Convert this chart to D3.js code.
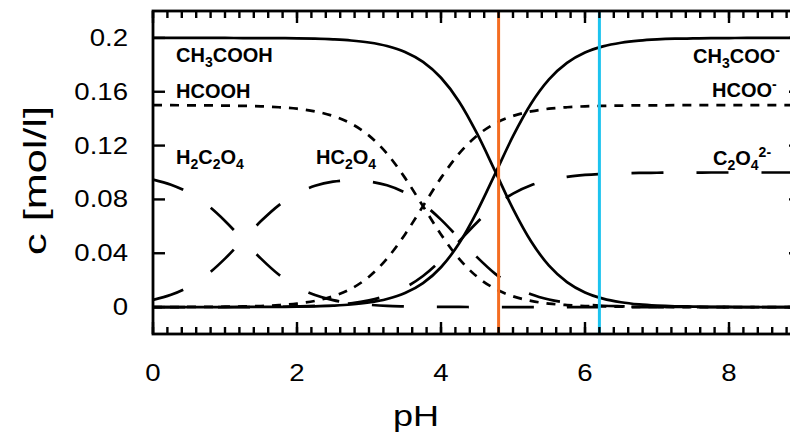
<!DOCTYPE html>
<html>
<head>
<meta charset="utf-8">
<script src="https://cdn.jsdelivr.net/npm/d3@7"></script>
<style>
  body { margin: 0; background: #fff; }
  svg { display: block; }
  text { font-family: "Liberation Sans", Arial, Helvetica, sans-serif; fill: #000; }
</style>
</head>
<body>
<svg id="chart" width="790" height="441"></svg>
<script>
// pH grid of the speciation curves
const pH = [0, 0.25, 0.5, 0.75, 1, 1.25, 1.5, 1.75, 2, 2.25, 2.5, 2.75, 3, 3.25, 3.5, 3.75,
  4, 4.25, 4.5, 4.75, 5, 5.25, 5.5, 5.75, 6, 6.25, 6.5, 6.75, 7, 7.25, 7.5, 7.75, 8, 8.25, 8.5, 8.75, 9];

// acetic acid system, total 0.2 mol/l
const ch3cooh = [0.2000, 0.2000, 0.2000, 0.2000, 0.2000, 0.1999, 0.1999, 0.1998, 0.1997, 0.1994, 0.1989, 0.1981,
  0.1966, 0.1940, 0.1896, 0.1822, 0.1704, 0.1528, 0.1290, 0.1012, 0.0730, 0.0489, 0.0308, 0.0186, 0.0109,
  0.0063, 0.0036, 0.0020, 0.0011, 0.0006, 0.0004, 0.0002, 0.0001, 0.0000, 0.0000, 0.0000, 0.0000];
const ch3coo = [0.0000, 0.0000, 0.0000, 0.0000, 0.0000, 0.0001, 0.0001, 0.0002, 0.0003, 0.0006, 0.0011, 0.0019,
  0.0034, 0.0060, 0.0104, 0.0178, 0.0296, 0.0472, 0.0710, 0.0988, 0.1270, 0.1511, 0.1692, 0.1814, 0.1891,
  0.1937, 0.1964, 0.1980, 0.1989, 0.1994, 0.1996, 0.1998, 0.1999, 0.2000, 0.2000, 0.2000, 0.2000];

// formic acid system, total 0.15 mol/l
const hcooh = [0.1500, 0.1500, 0.1499, 0.1499, 0.1497, 0.1495, 0.1492, 0.1485, 0.1474, 0.1454, 0.1420, 0.1364,
  0.1274, 0.1140, 0.0960, 0.0750, 0.0540, 0.0360, 0.0226, 0.0136, 0.0080, 0.0046, 0.0026, 0.0015, 0.0008,
  0.0005, 0.0003, 0.0001, 0.0001, 0.0000, 0.0000, 0.0000, 0.0000, 0.0000, 0.0000, 0.0000, 0.0000];
const hcoo = [0.0000, 0.0000, 0.0001, 0.0001, 0.0003, 0.0005, 0.0008, 0.0015, 0.0026, 0.0046, 0.0080, 0.0136,
  0.0226, 0.0360, 0.0540, 0.0750, 0.0960, 0.1140, 0.1274, 0.1364, 0.1420, 0.1454, 0.1474, 0.1485, 0.1492,
  0.1495, 0.1497, 0.1499, 0.1499, 0.1500, 0.1500, 0.1500, 0.1500, 0.1500, 0.1500, 0.1500, 0.1500];

// oxalic acid system, total 0.1 mol/l
const h2c2o4 = [0.0947, 0.0909, 0.0849, 0.0760, 0.0640, 0.0500, 0.0360, 0.0240, 0.0150, 0.0090, 0.0052, 0.0030,
  0.0017, 0.0009, 0.0005, 0.0002, 0.0001, 0.0001, 0.0000, 0.0000, 0.0000, 0.0000, 0.0000, 0.0000, 0.0000,
  0.0000, 0.0000, 0.0000, 0.0000, 0.0000, 0.0000, 0.0000, 0.0000, 0.0000, 0.0000, 0.0000, 0.0000];
const hc2o4 = [0.0053, 0.0091, 0.0151, 0.0240, 0.0360, 0.0500, 0.0639, 0.0758, 0.0845, 0.0901, 0.0932, 0.0942,
  0.0933, 0.0905, 0.0851, 0.0766, 0.0650, 0.0511, 0.0371, 0.0249, 0.0157, 0.0095, 0.0056, 0.0032, 0.0018,
  0.0010, 0.0006, 0.0003, 0.0002, 0.0001, 0.0001, 0.0000, 0.0000, 0.0000, 0.0000, 0.0000, 0.0000];
const c2o4 = [0.0000, 0.0000, 0.0000, 0.0000, 0.0000, 0.0000, 0.0001, 0.0002, 0.0005, 0.0009, 0.0016, 0.0028,
  0.0050, 0.0086, 0.0145, 0.0231, 0.0349, 0.0488, 0.0629, 0.0751, 0.0843, 0.0905, 0.0944, 0.0968, 0.0982,
  0.0990, 0.0994, 0.0997, 0.0998, 0.0999, 0.0999, 0.1000, 0.1000, 0.1000, 0.1000, 0.1000, 0.1000];

// axis ticks and labels
const xTicks = [0, 2, 4, 6, 8];
const xTickLabels = ["0", "2", "4", "6", "8"];
const yTicks = [0, 0.04, 0.08, 0.12, 0.16, 0.2];
const yTickLabels = ["0", "0.04", "0.08", "0.12", "0.16", "0.2"];
const xTitle = "pH";
const yTitle = "c [mol/l]";

// marked pH values
const markerPH = [4.8, 6.2];
const markerColors = ["#f46d22", "#1cc3ef"];

// species labels: pieces of [text, kind] with kind n = normal, b = subscript, p = superscript
const labelCH3COOH = [["CH", "n"], ["3", "b"], ["COOH", "n"]];
const labelHCOOH = [["HCOOH", "n"]];
const labelH2C2O4 = [["H", "n"], ["2", "b"], ["C", "n"], ["2", "b"], ["O", "n"], ["4", "b"]];
const labelHC2O4 = [["HC", "n"], ["2", "b"], ["O", "n"], ["4", "b"]];
const labelCH3COO = [["CH", "n"], ["3", "b"], ["COO", "n"], ["-", "p"]];
const labelHCOO = [["HCOO", "n"], ["-", "p"]];
const labelC2O4 = [["C", "n"], ["2", "b"], ["O", "n"], ["4", "b"], ["2-", "p"]];

const svg = d3.select("#chart");
const pLeft = 153, pRight = 801, pTop = 11, pBottom = 334;
const x = d3.scaleLinear().domain([0, 9]).range([pLeft, pRight]);
const y = d3.scaleLinear().domain([-0.02, 0.22]).range([pBottom, pTop]);

const plot = svg.append("g");
plot.append("clipPath").attr("id", "plotclip")
  .append("rect").attr("x", pLeft).attr("y", pTop).attr("width", pRight - pLeft).attr("height", pBottom - pTop);

// curves
const line = d3.line().x((d, i) => x(pH[i])).y(d => y(d)).curve(d3.curveMonotoneX);
const series = [
  { values: ch3cooh, dash: null },
  { values: ch3coo, dash: null },
  { values: hcooh, dash: "9,8" },
  { values: hcoo, dash: "9,8" },
  { values: h2c2o4, dash: "32,33" },
  { values: hc2o4, dash: "32,33" },
  { values: c2o4, dash: "32,33" }
];
const curves = plot.append("g").attr("clip-path", "url(#plotclip)");
curves.selectAll("path").data(series).join("path")
  .attr("d", d => line(d.values))
  .attr("fill", "none")
  .attr("stroke", "#000")
  .attr("stroke-width", 2.7)
  .attr("stroke-dasharray", d => d.dash);

// vertical pH markers
plot.append("g").selectAll("line").data(markerPH).join("line")
  .attr("x1", d => x(d)).attr("x2", d => x(d))
  .attr("y1", pTop).attr("y2", pBottom)
  .attr("stroke", (d, i) => markerColors[i])
  .attr("stroke-width", 3);

// inward tick marks on all four sides
const minorX = d3.range(0, 45).map(i => i * 0.2);
const ticks = svg.append("g").attr("stroke", "#000").attr("stroke-width", 2.4);
function tickMarks(values, len, scale, horizontal, edge, dir) {
  ticks.append("g").selectAll("line").data(values).join("line")
    .attr("x1", d => horizontal ? scale(d) : edge)
    .attr("x2", d => horizontal ? scale(d) : edge + dir * len)
    .attr("y1", d => horizontal ? edge : scale(d))
    .attr("y2", d => horizontal ? edge + dir * len : scale(d));
}
tickMarks(minorX, 7, x, true, pBottom, -1);
tickMarks(xTicks, 12, x, true, pBottom, -1);
tickMarks(minorX, 7, x, true, pTop, 1);
tickMarks(xTicks, 12, x, true, pTop, 1);
tickMarks(yTicks, 12, y, false, pLeft, 1);
tickMarks(yTicks, 12, y, false, pRight, -1);

// frame
svg.append("rect").attr("x", pLeft).attr("y", pTop)
  .attr("width", pRight - pLeft).attr("height", pBottom - pTop)
  .attr("fill", "none").attr("stroke", "#000").attr("stroke-width", 2.8);

// tick labels, drawn slightly wide
const sx = 1.2;
svg.append("g").selectAll("text").data(xTicks).join("text")
  .attr("transform", d => `translate(${x(d)},381) scale(${sx},1)`)
  .attr("text-anchor", "middle").attr("font-size", 23)
  .text((d, i) => xTickLabels[i]);
svg.append("g").selectAll("text").data(yTicks).join("text")
  .attr("transform", d => `translate(128,${y(d) + 8}) scale(${sx},1)`)
  .attr("text-anchor", "end").attr("font-size", 23)
  .text((d, i) => yTickLabels[i]);

// axis titles
svg.append("text")
  .attr("transform", `translate(416,426) scale(${sx},1)`)
  .attr("text-anchor", "middle").attr("font-size", 30)
  .text(xTitle);
svg.append("text")
  .attr("transform", `translate(46,${y(0.1) + 8}) rotate(-90) scale(1.35,1)`)
  .attr("text-anchor", "middle").attr("font-size", 32)
  .text(yTitle);

// species labels
function speciesLabel(pieces, px, py) {
  const t = svg.append("text").attr("x", px).attr("y", py)
    .attr("font-size", 20).attr("font-weight", "bold");
  let shift = 0;
  pieces.forEach(([s, kind]) => {
    const target = kind === "b" ? 5 : kind === "p" ? -8 : 0;
    t.append("tspan")
      .attr("dy", target - shift)
      .attr("font-size", kind === "n" ? 20 : 14)
      .text(s);
    shift = target;
  });
}
speciesLabel(labelCH3COOH, 176, 62);
speciesLabel(labelHCOOH, 176, 97.5);
speciesLabel(labelH2C2O4, 176, 163.5);
speciesLabel(labelHC2O4, 316, 163.5);
speciesLabel(labelCH3COO, 693, 63);
speciesLabel(labelHCOO, 712, 97);
speciesLabel(labelC2O4, 713, 165);
</script>
</body>
</html>
